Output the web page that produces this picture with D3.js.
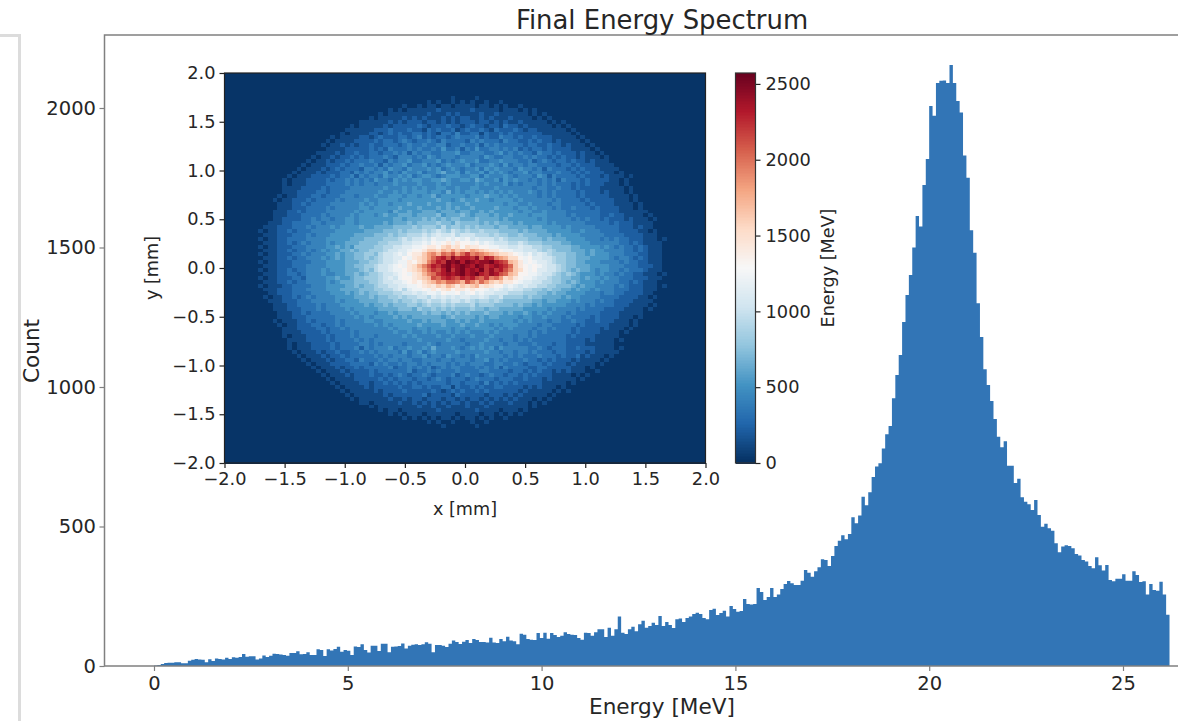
<!DOCTYPE html>
<html>
<head>
<meta charset="utf-8">
<style>
  html, body { margin: 0; background: #fff; }
  svg { display: block; font-family: "DejaVu Sans", sans-serif; }
</style>
</head>
<body>
<div id="chart"></div>
<script src="https://cdn.jsdelivr.net/npm/d3@7"></script>
<script>
// counts per energy bin, 300 bins from 0 to 26.2 MeV
const binCount = 300;
const maxEnergy = 26.2;
const counts = [
  2,4,7,11,12,12,13,13,10,10, 19,22,25,23,22,13,24,18,27,25,
  23,30,25,31,30,32,43,33,35,35, 23,27,38,32,37,44,43,41,39,37,
  47,47,53,42,43,49,39,39,60,57, 36,60,56,61,69,51,57,55,39,70,
  68,78,57,48,73,73,54,80,80,49, 69,70,72,81,63,73,76,78,75,78,
  85,80,49,75,75,73,68,80,91,86, 79,87,93,82,97,93,86,86,84,101,
  84,82,97,89,105,91,89,78,116,112, 97,94,93,118,100,119,98,118,111,104,
  108,121,115,112,111,100,94,119,118,108, 121,132,132,104,137,108,132,177,119,115,
  132,141,125,150,162,137,143,155,147,179, 143,158,147,136,168,170,158,172,177,186,
  191,186,172,168,201,205,183,190,198,177, 215,204,194,197,240,222,220,222,280,265,
  237,247,280,247,256,276,294,305,297,290, 290,306,344,334,320,340,354,383,380,358,
  394,430,449,469,454,473,533,512,539,607, 576,623,677,715,727,780,831,860,960,1043,
  1115,1233,1330,1401,1500,1613,1575,1724,1817,2007, 1972,2090,2098,2099,2090,2154,2090,2025,1984,1830,
  1750,1562,1481,1300,1179,1064,1007,950,885,822, 784,806,718,718,656,671,605,589,580,559,
  595,541,499,510,494,485,440,408,428,433, 430,422,401,396,380,375,358,350,390,361,
  342,362,308,304,313,313,329,306,306,340, 326,301,304,256,294,272,270,302,256,184
];

const energyTicks = [0, 5, 10, 15, 20, 25];
const countTicks = [0, 500, 1000, 1500, 2000];
const mmTicks = [-2, -1.5, -1, -0.5, 0, 0.5, 1, 1.5, 2];
const energyMax = 2572;
const colorTicks = [0, 500, 1000, 1500, 2000, 2500];

// energy per pixel on the target, read in bands of 100 MeV: 0-9 then a-p (base 36)
// 100 rows top to bottom, 100 columns left to right, grouped by ten
const energyRows = [
"0000000000 0000000000 0000000000 0000000000 0000000000 0000000000 0000000000 0000000000 0000000000 0000000000",
"0000000000 0000000000 0000000000 0000000000 0000000000 0000000000 0000000000 0000000000 0000000000 0000000000",
"0000000000 0000000000 0000000000 0000000000 0000000000 0000000000 0000000000 0000000000 0000000000 0000000000",
"0000000000 0000000000 0000000000 0000000000 0000000000 0000000000 0000000000 0000000000 0000000000 0000000000",
"0000000000 0000000000 0000000000 0000000000 0000000000 0000000000 0000000000 0000000000 0000000000 0000000000",
"0000000000 0000000000 0000000000 0000000000 0000000000 0000000000 0000000000 0000000000 0000000000 0000000000",
"0000000000 0000000000 0000000000 0000000000 0000000100 0010000000 0000000000 0000000000 0000000000 0000000000",
"0000000000 0000000000 0000000000 0000000000 0010100101 0100100100 0000000000 0000000000 0000000000 0000000000",
"0000000000 0000000000 0000000000 0000000100 1011011011 1101101010 0100000000 0000000000 0000000000 0000000000",
"0000000000 0000000000 0000000000 0000101011 1111211111 1211111011 1010100000 0000000000 0000000000 0000000000",
"0000000000 0000000000 0000000000 0010111111 1121112121 1112112111 1110101000 0000000000 0000000000 0000000000",
"0000000000 0000000000 0000000000 1011111212 1211121212 2112121112 1111010100 0000000000 0000000000 0000000000",
"0000000000 0000000000 0000000011 1111212122 2122121212 2212212121 1211111010 1000000000 0000000000 0000000000",
"0000000000 0000000000 0000001011 1112122222 3212223221 2322122132 2121111101 0100000000 0000000000 0000000000",
"0000000000 0000000000 0000011111 1222322232 2132322312 3223213222 3212211111 1010000000 0000000000 0000000000",
"0000000000 0000000000 0000101111 2212323223 3232133242 2331322323 2222221111 1101000000 0000000000 0000000000",
"0000000000 0000000000 0010111122 1232223323 4232332343 3342322433 2322322211 1110100000 0000000000 0000000000",
"0000000000 0000000000 0101111222 2323323432 3343243333 2434333243 3223232212 1111010000 0000000000 0000000000",
"0000000000 0000000000 1011212122 3223332343 3433442334 3342434333 3323322322 1211101000 0000000000 0000000000",
"0000000000 0000000000 0111122222 3232433343 4334353342 4353344343 4232332322 2211110100 0000000000 0000000000",
"0000000000 0000000001 1112122322 3323343424 3443344453 3444334534 3433243323 2221211010 0000000000 0000000000",
"0000000000 0000000010 1121223232 3334324443 4354344434 4443543344 3343433232 3221211101 0000000000 0000000000",
"0000000000 0000000101 1212232333 4332434453 3444534345 4453344544 4334234323 3232212111 0000000000 0000000000",
"0000000000 0000001011 1222323343 3424344534 4534345444 5344454353 4434433332 3323222111 1000000000 0000000000",
"0000000000 0000010111 2123233324 4343544354 4454534543 4453545444 3544342433 3232322211 1100000000 0000000000",
"0000000000 0000101112 1222332434 3445343544 5344564453 5445354543 4453443334 3323232221 1010000000 0000000000",
"0000000000 0001011122 2232334243 4435445453 4554345554 4553544454 3444354243 3332322212 1110100000 0000000000",
"0000000000 0010111222 2323343434 3544354545 5445565445 5465445354 5443434342 4333232222 1101000000 0000000000",
"0000000000 0010111222 2333343434 4344454444 5444545444 4454544453 4344434343 3323232221 1101000000 0000000000",
"0000000000 0011112222 3233334444 4445444545 4544554454 4554445444 4444344334 3323222211 1110100000 0000000000",
"0000000000 0011122223 3233344444 4454454545 5545546454 5545454545 4445434343 3332322212 1110100000 0000000000",
"0000000000 0101122233 2333444344 4544555455 4556455555 4555655454 5444434343 3332322222 1111010000 0000000000",
"0000000000 1011222323 3334344445 4455554555 5555655456 5565545555 4544444434 3333232222 2111010000 0000000000",
"0000000000 0111223233 3344444454 5455455565 5565556555 6555555545 5445444344 3333323222 2111101000 0000000000",
"0000000000 0111222333 3434444455 4555556555 6555656565 5655556555 4554544434 3343332322 2211101000 0000000000",
"0000000000 1112232333 3444444545 5555465565 5666566656 6556565555 5455445444 4333333322 2211111100 0000000000",
"0000000000 1112223333 4344445455 5456556665 6666756667 6566656556 5554555444 4343333322 3221111010 0000000000",
"0000000000 1122223343 4434455455 5555566566 6767676776 6676666565 5555545444 4434343323 2221211101 0000000000",
"0000000001 1122333344 3444455455 5556566676 7777877687 7776767666 5655555454 4444433333 2322211110 0000000000",
"0000000011 1222333434 4454555565 5666677778 7888797887 8787776776 6665665555 4544444333 3322212110 0000000000",
"0000000101 1223233344 4445555556 6667778788 8989a98a98 9889888777 7676666555 5544544433 3322221101 0000000000",
"0000000011 1222333434 4455555666 6777878899 9a9abaab9a aa99989887 7877766656 5555444443 3332222111 0000000000",
"0000000101 1223333444 4555556667 7778889a9a abacbbcbcb cabaaa9a98 8887776766 6555544434 3433222111 0100000000",
"0000000011 1223234344 4545566677 7788999aab bcbdcdeced dcdbcbaaa9 9a98887777 6655554444 4433232111 1000000000",
"0000000101 1222333444 4556565777 78899aabbc cdeedfgefd feeddccbba abaa998877 7766555545 4343323211 1000000000",
"0000000011 1223233434 5455667677 8889aabbcd deggfhgigh gihgfeedcc bbaaa98987 7766656554 4443323211 1000000000",
"0000000101 1222334344 4556566778 879aabcbde egijhkjlik mjkjihgffe dcbcaba988 8776656555 4443332211 1000000000",
"0000000011 1223233444 5456566778 789aabbdce fgikmnlomn nmoknmjihf fdcdbbaa98 8776665555 4344323211 1000000000",
"0000000101 1222333344 4555566677 889aabcced fgjlnmpopn ponoopnmlh gecdcbba98 8776655544 4434332211 1000000000",
"0000000011 1222333444 4555566778 89aabcdcef hjlnmopnop onpomnonmk gedcdcbaa9 8776665555 4443332221 1000000000",
"0000000101 1223233444 5455566678 79aabccdef gikmlnpmop nonpmomnlj gfdcdbbaa9 8767665455 4434333211 1000000000",
"0000000011 1223323444 5445566767 889aabcdce fhjkmnonop nopnmonlkh gddccbaa98 7876555454 4343322111 0100000000",
"0000000101 1222332444 4556556778 889abacdde fghlkmnmln mnlkmjkifg edccbaa988 7766565545 4433322211 1000000000",
"0000000011 1223233444 4545666777 889aabbcde dfghjikkjh ljhkigfgee dcbbaa9988 7676555454 4433232111 0000000000",
"0000000101 1122333344 4555566767 7899aabbcc defegfhgeg fghefeddbc babaa99887 7765655444 4343222111 0100000000",
"0000000011 1222333444 4555666677 78899ab9bc cdcedefdee deddcbcbab aa99887877 6656554544 4333222111 0000000000",
"0000000001 1222333344 4455565676 7788899aab abccbdccdb cdbcbbaaa9 9988877676 6555544434 4332222110 0000000000",
"0000000010 1122323434 4445555666 7677889899 aa9bababab baaba99a88 8878776666 5655444433 3322221101 0000000000",
"0000000001 1122233344 4445455566 6677787889 89a99a9aa9 a989989877 7777665665 5545444343 3222211110 0000000000",
"0000000000 1112233334 3444555556 5667677788 7898898988 8978887777 6766565555 5444434333 3222111101 0000000000",
"0000000000 1112223334 3444454555 5566667776 8778787877 7877677666 6655555454 4443433332 2221111010 0000000000",
"0000000000 0111223233 3344445455 5455656666 6767767676 7666766656 5565454544 4343333322 2211111000 0000000000",
"0000000000 0111222333 3334444545 4555565656 6666656766 6656566555 5455445444 3433332322 2211101000 0000000000",
"0000000000 1011122323 3334344445 5445555565 5656665565 6556555555 4545444344 3343322322 2111010000 0000000000",
"0000000000 0101122233 2334344444 4545455555 6555565556 5565545455 5444434433 3332322222 1111010000 0000000000",
"0000000000 0011122223 3233434444 4444545554 5545555455 4555554545 4444344343 3323222212 1110100000 0000000000",
"0000000000 0011112222 3233334344 4444454454 4545445454 5444545444 4443434333 3323222211 1101000000 0000000000",
"0000000000 0010111222 2323334344 4344444545 4444544544 4544454444 3443433333 3232222111 1100000000 0000000000",
"0000000000 0001111222 2323333434 3444444444 5444445443 4444544344 3434333333 3222212111 1010000000 0000000000",
"0000000000 0001011122 2232333344 3434444344 4454344444 3445444434 4333433323 3222211111 1000000000 0000000000",
"0000000000 0001011122 2232333424 3444534454 4546444543 4545453544 4443343233 3223222111 1010000000 0000000000",
"0000000000 0000101112 1223223343 4344443534 5345444454 4444544344 3443433323 3222212111 1100000000 0000000000",
"0000000000 0000010111 2122323333 3434344434 4534435443 4354444434 3433343332 3223121110 1000000000 0000000000",
"0000000000 0000001011 1212233243 3343443443 3444344344 4344534343 3343323232 2212111101 0000000000 0000000000",
"0000000000 0000000101 1122223333 2434334344 3434443434 3444334433 4323332322 2121111010 0000000000 0000000000",
"0000000000 0000000010 1112122323 3333423343 4342343443 3343434243 3332233222 2211101000 0000000000 0000000000",
"0000000000 0000000001 0111212222 3233333342 3343433343 3334433332 3323232212 1211100100 0000000000 0000000000",
"0000000000 0000000000 1011121222 3223234323 3432333423 4332343323 3232322211 1101010000 0000000000 0000000000",
"0000000000 0000000000 0101111222 2232323332 3323432333 2343332333 2232221211 1110100000 0000000000 0000000000",
"0000000000 0000000000 0010111122 1223232323 2333332332 3332423232 3222221111 1010000000 0000000000 0000000000",
"0000000000 0000000000 0001011112 1222223223 3232233132 2323223322 2212121110 1000000000 0000000000 0000000000",
"0000000000 0000000000 0000101111 1212222322 2223212323 2232322222 2121111101 0100000000 0000000000 0000000000",
"0000000000 0000000000 0000010111 1112122222 2312222132 2222122212 1211111010 0000000000 0000000000 0000000000",
"0000000000 0000000000 0000001011 1111211212 2122212212 1221212121 2111010100 0000000000 0000000000 0000000000",
"0000000000 0000000000 0000000011 0111112112 1212121221 2112121112 1110101000 0000000000 0000000000 0000000000",
"0000000000 0000000000 0000000000 1011111111 2112112111 2111211111 1110100000 0000000000 0000000000 0000000000",
"0000000000 0000000000 0000000000 0010110111 1111211111 1121111011 1010000000 0000000000 0000000000 0000000000",
"0000000000 0000000000 0000000000 0000101011 1011111101 1110110101 0100000000 0000000000 0000000000 0000000000",
"0000000000 0000000000 0000000000 0000000101 0101011010 1101010010 0000000000 0000000000 0000000000 0000000000",
"0000000000 0000000000 0000000000 0000000000 0010100100 0100100000 0000000000 0000000000 0000000000 0000000000",
"0000000000 0000000000 0000000000 0000000000 0000010000 0010000000 0000000000 0000000000 0000000000 0000000000",
"0000000000 0000000000 0000000000 0000000000 0000000000 0000000000 0000000000 0000000000 0000000000 0000000000",
"0000000000 0000000000 0000000000 0000000000 0000000000 0000000000 0000000000 0000000000 0000000000 0000000000",
"0000000000 0000000000 0000000000 0000000000 0000000000 0000000000 0000000000 0000000000 0000000000 0000000000",
"0000000000 0000000000 0000000000 0000000000 0000000000 0000000000 0000000000 0000000000 0000000000 0000000000",
"0000000000 0000000000 0000000000 0000000000 0000000000 0000000000 0000000000 0000000000 0000000000 0000000000",
"0000000000 0000000000 0000000000 0000000000 0000000000 0000000000 0000000000 0000000000 0000000000 0000000000",
"0000000000 0000000000 0000000000 0000000000 0000000000 0000000000 0000000000 0000000000 0000000000 0000000000",
"0000000000 0000000000 0000000000 0000000000 0000000000 0000000000 0000000000 0000000000 0000000000 0000000000",
"0000000000 0000000000 0000000000 0000000000 0000000000 0000000000 0000000000 0000000000 0000000000 0000000000"
];

// page layout
const pageW = 1188, pageH = 721;
const main = { left: 104.5, right: 1178, top: 35, bottom: 666 };
const inset = { left: 224.5, right: 705.5, top: 73, bottom: 463 };
const cbar = { left: 735.5, right: 755.5 };

const textColor = "#262626";
const barColor = "#3275b6";
const spineColor = "#808080";

const svg = d3.select("#chart").append("svg")
  .attr("width", pageW)
  .attr("height", pageH);

// the page's side panel frame on the left
svg.append("path")
  .attr("d", "M0,35.5H19.5V721")
  .attr("fill", "none")
  .attr("stroke", "#dcdcdc")
  .attr("stroke-width", 3);

// main histogram
const x = d3.scaleLinear().domain([0, 25]).range([154, 1123]);
const y = d3.scaleLinear().domain([0, 2000]).range([main.bottom, 108]);
const binWidth = maxEnergy / binCount;

const area = d3.area()
  .curve(d3.curveStepAfter)
  .x((d, i) => x(i * binWidth))
  .y0(y(0))
  .y1(d => y(d));

svg.append("path")
  .datum(counts.concat(counts[counts.length - 1]))
  .attr("fill", barColor)
  .attr("d", area);

function styleAxis(g, color, width, fontSize) {
  g.attr("font-family", null).attr("font-size", fontSize);
  g.selectAll("text").attr("fill", textColor);
  g.selectAll("line").attr("stroke", color).attr("stroke-width", width);
  g.selectAll(".domain").remove();
}

svg.append("g")
  .attr("transform", `translate(0,${main.bottom})`)
  .call(d3.axisBottom(x).tickValues(energyTicks).tickFormat(d3.format("d")).tickSize(5).tickPadding(5))
  .call(styleAxis, spineColor, 1.2, 19.5);

svg.append("g")
  .attr("transform", `translate(${main.left},0)`)
  .call(d3.axisLeft(y).tickValues(countTicks).tickFormat(d3.format("d")).tickSize(5).tickPadding(3.5))
  .call(styleAxis, spineColor, 1.2, 19.5);

// main spines: left, top, bottom
svg.append("path")
  .attr("d", `M${main.right},${main.top}H${main.left}V${main.bottom}H${main.right}`)
  .attr("fill", "none")
  .attr("stroke", spineColor)
  .attr("stroke-width", 1.5);

svg.append("text")
  .attr("x", 662).attr("y", 29)
  .attr("text-anchor", "middle")
  .attr("font-size", 25.9)
  .attr("fill", textColor)
  .text("Final Energy Spectrum");

svg.append("text")
  .attr("x", 662).attr("y", 714)
  .attr("text-anchor", "middle")
  .attr("font-size", 21.6)
  .attr("fill", textColor)
  .text("Energy [MeV]");

svg.append("text")
  .attr("transform", "translate(39,351) rotate(-90)")
  .attr("text-anchor", "middle")
  .attr("font-size", 21.6)
  .attr("fill", textColor)
  .text("Count");

// inset map, RdBu reversed
const brewerRdBu = ["#053061", "#2166ac", "#4393c3", "#92c5de", "#d1e5f0", "#f7f7f7",
  "#fddbc7", "#f4a582", "#d6604d", "#b2182b", "#67001f"];
const color = d3.scaleLinear()
  .domain(brewerRdBu.map((c, i) => i * energyMax / 10))
  .range(brewerRdBu);

const mx = d3.scaleLinear().domain([-2, 2]).range([inset.left, inset.right]);
const my = d3.scaleLinear().domain([-2, 2]).range([inset.bottom, inset.top]);
const cellSize = 4 / energyRows.length;

const cells = [];
energyRows.forEach((row, r) => {
  row.replace(/ /g, "").split("").forEach((ch, c) => {
    cells.push({ r: r, c: c, v: parseInt(ch, 36) * 100 + 20 });
  });
});

svg.append("g")
  .attr("shape-rendering", "crispEdges")
  .selectAll("rect")
  .data(cells)
  .join("rect")
  .attr("x", d => mx(-2 + d.c * cellSize))
  .attr("y", d => my(2 - d.r * cellSize))
  .attr("width", mx(cellSize) - mx(0) + 0.5)
  .attr("height", my(0) - my(cellSize) + 0.5)
  .attr("fill", d => color(d.v));

svg.append("g")
  .attr("transform", `translate(0,${inset.bottom})`)
  .call(d3.axisBottom(mx).tickValues(mmTicks).tickFormat(d3.format(".1f")).tickSize(5).tickPadding(4))
  .call(styleAxis, "#222", 1.2, 17.8);

svg.append("g")
  .attr("transform", `translate(${inset.left},0)`)
  .call(d3.axisLeft(my).tickValues(mmTicks).tickFormat(d3.format(".1f")).tickSize(5).tickPadding(4))
  .call(styleAxis, "#222", 1.2, 17.8);

svg.append("rect")
  .attr("x", inset.left).attr("y", inset.top)
  .attr("width", inset.right - inset.left).attr("height", inset.bottom - inset.top)
  .attr("fill", "none").attr("stroke", "#222").attr("stroke-width", 1.2);

svg.append("text")
  .attr("x", 465).attr("y", 515)
  .attr("text-anchor", "middle")
  .attr("font-size", 17.6)
  .attr("fill", textColor)
  .text("x [mm]");

svg.append("text")
  .attr("transform", "translate(158,268) rotate(-90)")
  .attr("text-anchor", "middle")
  .attr("font-size", 17.6)
  .attr("fill", textColor)
  .text("y [mm]");

// colorbar
const cy = d3.scaleLinear().domain([0, energyMax]).range([inset.bottom, inset.top]);
const cbarSteps = d3.range(0, energyMax, energyMax / 256);

svg.append("g")
  .attr("shape-rendering", "crispEdges")
  .selectAll("rect")
  .data(cbarSteps)
  .join("rect")
  .attr("x", cbar.left)
  .attr("width", cbar.right - cbar.left)
  .attr("y", d => cy(d + energyMax / 256))
  .attr("height", cy(0) - cy(energyMax / 256) + 0.5)
  .attr("fill", d => color(d));

svg.append("g")
  .attr("transform", `translate(${cbar.right},0)`)
  .call(d3.axisRight(cy).tickValues(colorTicks).tickFormat(d3.format("d")).tickSize(5).tickPadding(5))
  .call(styleAxis, "#222", 1.2, 17.8);

svg.append("rect")
  .attr("x", cbar.left).attr("y", inset.top)
  .attr("width", cbar.right - cbar.left).attr("height", inset.bottom - inset.top)
  .attr("fill", "none").attr("stroke", "#333").attr("stroke-width", 1.2);

svg.append("text")
  .attr("transform", "translate(834,268) rotate(-90)")
  .attr("text-anchor", "middle")
  .attr("font-size", 17.6)
  .attr("fill", textColor)
  .text("Energy [MeV]");
</script>
</body>
</html>
